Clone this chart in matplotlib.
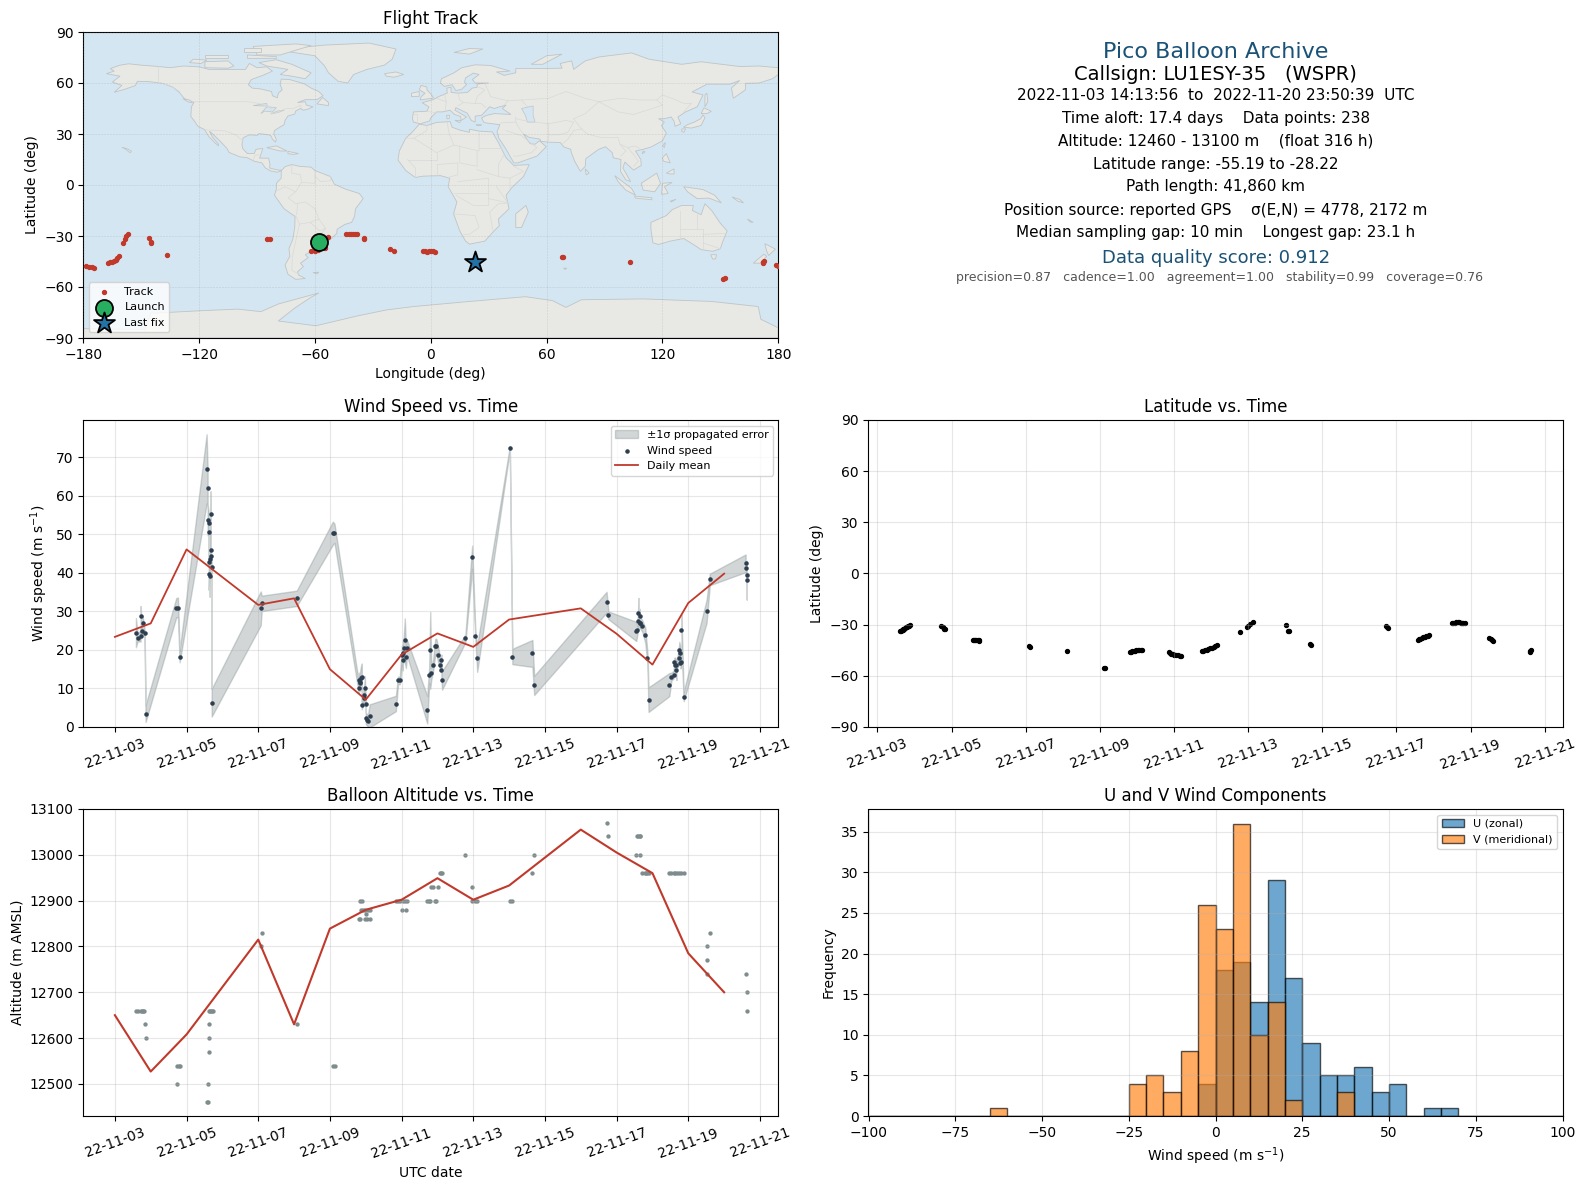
import numpy as np
import matplotlib
matplotlib.use("Agg")
import matplotlib.pyplot as plt
import matplotlib.dates as mdates

# ---- land outlines (lon, lat), traced roughly ----
north_america = [(-168,65.5),(-164,67),(-166,68.5),(-161,70.5),(-156.5,71.3),(-150,70.5),(-141,69.7),(-135,69),(-128,70),(-120,69.5),(-115,68),(-108,68),(-100,68),(-96,68),(-94,71.5),(-90,69),(-85,69.5),(-82,67),(-87,64.5),(-93,62),(-94.5,59),(-92.5,57),(-88,56.5),(-82.5,55),(-82,52.5),(-79.5,51.3),(-79,54),(-77,56),(-78,59),(-77.5,62.3),(-73,62),(-70,61),(-65.5,59.5),(-62,57),(-58,55),(-55.8,52.5),(-59,50.2),(-65,50.2),(-69,48.5),(-65,49),(-64.5,47),(-61,46),(-64,44.5),(-66,44),(-67.5,45),(-70,43.5),(-70.5,41.7),(-74,40.6),(-75.5,38),(-76,35.5),(-78.5,33.8),(-81,32),(-81.3,30),(-80,26.8),(-80.5,25.2),(-82,27),(-83,29.2),(-85,29.7),(-89,30.2),(-90,29.2),(-94,29.5),(-97.2,27.8),(-97.8,24),(-97.5,21.5),(-95,18.5),(-91.5,18.5),(-90.5,21),(-87,21.5),(-88,18),(-88.7,15.8),(-84,15.8),(-83.3,12),(-83.5,10),(-80,9),(-77.3,8.6),(-79.5,7.5),(-83,8.3),(-85.7,10),(-87.5,13),(-91.5,14),(-95,16),(-99,16.6),(-104.5,19.2),(-105.6,21.5),(-109,25.6),(-112.5,29.5),(-114.7,31.7),(-113,28),(-110,24),(-110,23),(-112,25),(-115,28.5),(-117.2,32.6),(-120.6,34.5),(-122.5,37.7),(-124.3,40.3),(-124,46),(-122.7,48.5),(-127.5,50.7),(-130.3,54.5),(-133.5,57.5),(-139,59.8),(-146,60.8),(-152,61),(-153,58.5),(-158,56.5),(-164,54.5),(-160,58.6),(-165,60.5),(-161,64)]
south_america = [(-77.3,8.6),(-75.5,10.8),(-72,12),(-68,11),(-62,10.5),(-60,8.5),(-52,5),(-50,0.5),(-44,-2.5),(-37,-5),(-35,-8),(-39,-14),(-39.5,-18.5),(-41,-22),(-44.5,-23.2),(-48.5,-26),(-48.7,-28.5),(-53,-33),(-56,-35),(-58,-34.2),(-57,-36.5),(-58,-38.3),(-62,-39),(-65,-41),(-63.5,-42.7),(-67.5,-46),(-66,-48),(-69,-51),(-68.5,-53),(-65,-55),(-70,-55.5),(-74,-52.5),(-75.5,-47),(-73,-42),(-73.5,-37.5),(-71.5,-32),(-70.5,-25),(-70.3,-18.5),(-76,-14),(-81,-6),(-80,-2.5),(-80,1),(-77.5,4),(-77.5,7.5)]
africa = [(-5.9,35.8),(-2,35),(3,36.8),(10,37.3),(11,34),(15,32.3),(20,31),(20,32.8),(25,31.7),(32,31.2),(32.5,30),(35.5,24),(37.2,20),(39,16),(43,11.5),(51,12),(48,5),(42,-1.5),(39,-6),(40.5,-14),(35,-20),(35.5,-24),(32.8,-27),(28,-33),(20,-34.8),(18,-33),(15,-27),(11.8,-17),(13.5,-10),(9,-1),(9.8,4),(5,5.5),(-4,5.2),(-8,4.4),(-13,8.5),(-17,14.7),(-16.3,20),(-13,27.5),(-9.7,31)]
eurasia = [(-9,37),(-9.5,39),(-9,43),(-2,43.4),(-1,46),(-4.5,48.4),(1.5,50.3),(4,52),(8.5,54),(8.3,57),(10.5,57.5),(10.5,54.5),(14,54),(19,54.5),(21.5,57),(24,57.5),(24,59.4),(30,60),(23,60),(21.5,62),(25,65),(22,65.8),(18,63),(17.5,60.5),(18.5,59),(16,56.3),(13,55.5),(11,59),(7,58),(5,60),(5.5,62.5),(12,66),(16,69),(23,70.7),(31,70.3),(41,67),(34,66.5),(38,64.5),(44,66),(44,68.5),(55,68.5),(68,68.7),(67,71.5),(73,73),(74,68),(80,73),(87,75.3),(104,77.7),(113,74),(130,71),(140,72.5),(160,69.7),(170,70),(180,69),(180,65),(177,62.5),(170,60),(163,59.8),(163,56),(156.7,51),(155.7,57),(160,61.5),(155,59.3),(143,59.3),(135.3,54.7),(141,53),(138,46),(132,43),(128,40),(129.5,36),(126.5,34.5),(126,37.5),(124.5,40),(121,39),(118,39),(121,37),(119.5,35),(122,30.5),(120,26),(114,22.3),(110,21),(106,20),(108.8,15),(109,11.5),(105,8.8),(100.5,13.5),(99.5,10),(103.5,2),(101,3),(98.3,8),(98.5,15),(94.5,16),(94,19),(90.5,22.5),(87,21),(80.3,15.5),(80,11),(77.5,8),(74.5,14),(72.8,19),(72.5,21),(69,22.3),(67,25),(61,25.2),(57,25.7),(56.5,27),(51,28),(48,30),(50,26.5),(51.5,24.3),(54,24),(56.3,26),(59.8,22.5),(55,17),(45,13),(43,13),(39,21),(35,28),(34.9,29.5),(34.3,31.3),(35.8,35.5),(32,36),(27.5,36.7),(26.3,39.5),(29,41),(33,42),(41.5,41.5),(37,45),(39,47),(35,45.8),(33,45),(30.5,46),(28,43),(26.3,41),(23,40.5),(23,37),(21,38),(19.5,41),(18.8,42.3),(13,45.5),(12.5,44),(18.5,40),(16.5,38.5),(15.7,38),(15.5,40.3),(12.3,41.5),(10,44),(6,43),(3,43),(0,39.5),(-0.7,37.6),(-5.5,36)]
australia = [(114,-22),(122,-18),(125,-14.5),(130,-12),(136,-12),(135.5,-15),(140,-17.5),(142,-11),(145.5,-15),(150,-22.5),(153.5,-27),(151,-34),(150,-37.5),(146,-39),(140,-38),(136,-35),(131,-31.5),(124,-33),(118,-35),(115,-34),(114,-26)]
antarctica = [(-180,-90),(-180,-84.5),(-148,-85),(-145,-75.5),(-120,-74),(-100,-73),(-88,-74.5),(-79,-70),(-58,-63.5),(-62,-66),(-70,-72),(-79,-80),(-59.5,-82.8),(-38,-77),(-23,-73.5),(-9,-71.5),(20,-68.5),(49,-65.7),(63,-68),(70,-72),(78,-67.5),(110,-67),(145.5,-68.5),(169.6,-71.5),(171,-79),(180,-84),(180,-90)]
islands = [
    [(-73,78.3),(-67,81),(-55,82.3),(-32,83.5),(-18,80),(-20,74),(-24,70.5),(-33,68),(-40,65),(-43,60),(-48,61),(-53,66),(-55,70),(-60,76)],
    [(-80,73.7),(-72,71),(-66,68),(-62,66),(-65,62.5),(-72,64),(-78,65),(-74,68),(-85,70),(-89,72)],
    [(-117,69),(-105,68.7),(-102,70),(-105,73),(-117,72.5)],
    [(-125,72),(-123,74),(-116,73.5),(-119,71.5)],
    [(-90,76.5),(-78,76.5),(-62,82),(-70,83),(-92,81.5)],
    [(-95,74.5),(-80,74.5),(-80,75.5),(-95,76.5)],
    [(-117,75),(-105,75),(-105,76.5),(-117,76.5)],
    [(-97,78),(-88,78),(-88,80.5),(-97,80.5)],
    [(-128.5,50.8),(-125,50),(-123.5,48.5),(-125.5,48.8)],
    [(-59,47.7),(-53,46.7),(-53,48.5),(-56,51.5)],
    [(-85,22),(-80,23),(-74.5,20),(-78,20)],
    [(-74,19.8),(-68.5,18.5),(-71,18),(-74,18.4)],
    [(-5.5,50),(1.5,51.2),(0,53.5),(-2,56),(-2,57.6),(-5,58.6),(-6,56),(-3,54),(-5,52)],
    [(-10,52),(-6,52.2),(-6,55),(-10,54)],
    [(-24,65.5),(-18,66.5),(-14,65),(-19,63.4),(-23,64)],
    [(12,78),(20,80.3),(27,80),(20,77)],
    [(52,71),(58,71),(68,77),(60,76)],
    [(142,46),(143.5,49),(143,54),(142,53),(142,48)],
    [(130.8,34),(135,33.5),(140,35),(142,39.5),(141,41.3),(139.8,39),(136.5,37),(133,35.5)],
    [(130,33),(132,33),(131,31),(130,31.5)],
    [(140,42),(141.5,45.4),(145.3,43.3),(143,42)],
    [(120,23),(121.5,25),(121,22)],
    [(110,20),(111,19.5),(109.5,18.3)],
    [(120,16),(122,18.5),(124,13),(120.5,14)],
    [(122,7),(126,9.5),(126,6.5),(124,6.5)],
    [(95.3,5.5),(104,-2),(106,-6),(101,-3),(97,2)],
    [(109,1),(117,7),(119,1),(116,-4),(110,-3)],
    [(105.5,-6.5),(114.5,-7.5),(114.5,-8.7),(106,-7.7)],
    [(119.5,-5.5),(120,1),(125,1.5),(121,-1),(123,-5)],
    [(124,-9.5),(127,-8.4),(124.5,-10)],
    [(131,-1),(141,-2.7),(147,-6),(150.5,-10.5),(144,-7.7),(138,-8),(133,-4)],
    [(156,-7),(160,-8.5),(162,-10.5),(159,-9.5)],
    [(164,-20),(167,-22),(165.5,-21.8)],
    [(145,-41),(148,-41),(147.5,-43.5),(146,-43.5)],
    [(173,-34.5),(178.5,-37.7),(175,-41.5),(174,-39)],
    [(172.5,-40.7),(174,-42),(170.5,-46),(167,-46)],
    [(49.3,-12),(50.5,-16),(47,-25),(44,-25),(44,-17)],
    [(80,9.5),(82,7),(80.5,6)],
    [(68.8,-48.8),(70.5,-49),(69.5,-49.7)],
    [(-61,-51.5),(-58,-51.3),(-59,-52.3)],
    [(12.5,38),(15.5,38),(15,36.7)],
    [(8.2,41),(9.7,41),(9.5,39),(8.4,39)],
    [(23.5,35.5),(26.3,35.3),(24,35)],
    [(-160,22.2),(-157,21.2),(-155,19.8),(-155.8,19),(-158,21)],
]
lakes = [
    [(47,45),(53,46.5),(53,41),(54,37),(50,37),(49,41)],
    [(-92,46.7),(-85,48),(-84.7,46.5),(-87,46.5)],
    [(-88,42),(-85,46),(-80,45.5),(-82,43),(-86,43.5)],
    [(-79.5,43.5),(-76,44),(-79,42.7),(-83,41.8)],
]
borders = [
    [(-123,49),(-95,49),(-89,48),(-83,46),(-82.5,42),(-79,43),(-75,45),(-71,45),(-67.5,47),(-67,45)],
    [(-141,69.7),(-141,60.3),(-135,58.5),(-130,55)],
    [(-117,32.5),(-106.5,31.8),(-101,29.5),(-97.5,26)],
    [(-92,14.7),(-91,17.5),(-89,17.8)],
    [(-72,11.5),(-72,7),(-67.5,6),(-67,1.5)],
    [(-60,8),(-60,1),(-67,1.5),(-70,-4),(-74,-7.5),(-70,-11),(-65,-10),(-60,-14),(-58,-20),(-54.5,-25.5),(-57.5,-30),(-53.5,-33.7)],
    [(-70,-18),(-68,-23),(-70,-33),(-71.7,-42),(-72,-50),(-68.5,-52.5)],
    [(-69,-11),(-69.5,-17.5)],
    [(-80,-3.5),(-75.5,-1),(-70,-4)],
    [(-68,-23),(-62.5,-22),(-58,-20)],
    [(-62.5,-22),(-57.5,-27),(-54.5,-25.5)],
    [(-60,5),(-57,2),(-52,2.5),(-52,5)],
    [(-13,27.5),(-8.7,27.5),(-2,32),(-2,35)],
    [(-8.7,27.5),(3,19),(12,23.5),(9.5,30),(8.5,37)],
    [(12,23.5),(25,20),(25,31.7)],
    [(25,22),(36.5,22)],
    [(15,23),(15,13),(24,11),(24,20)],
    [(24,9),(35,5),(35,12),(38,18)],
    [(-12,15),(-5,15),(3,15),(3,19)],
    [(3,12),(14,13),(14,6),(9,4.5)],
    [(-8,4.4),(-8,10),(-12,15)],
    [(3,6),(3,12)],
    [(12,-5),(30,-5),(30,-12),(22,-12),(13,-6)],
    [(14,2),(30,4),(30,-5)],
    [(12,-17),(23,-18),(25,-25),(20,-29),(17,-29)],
    [(35,5),(41,4),(41,-2)],
    [(34,-1),(40,-10.5),(30,-8)],
    [(41,4),(48,8),(43,11)],
    [(40.5,-10.5),(35,-11),(30.5,-16),(31.5,-22),(32,-26.5)],
    [(28,60),(31,52),(40,49.5),(38,47)],
    [(47,50),(61,51),(70,55),(80,51),(87,49),(98,51),(108,50),(117,50),(120,53),(127,50),(131,48),(135,48),(131,43)],
    [(40,49.5),(47,50),(50,46)],
    [(87,49),(97,43),(105,41.5),(112,44),(120,47),(117,50)],
    [(74,39),(80,42),(87,49)],
    [(74,39),(78,33),(81,30),(88,28),(97,28),(98,24),(102,22),(106,23),(108,21.5)],
    [(68,24),(71,27),(74,32),(78,33)],
    [(44,39),(48,38),(54,37),(61,36),(61,25)],
    [(44,37),(46,33),(48,30)],
    [(36,36.5),(44,37),(44,40)],
    [(39,32),(47,29),(55,22),(52,19),(45,17),(43,17)],
    [(61,36),(70,38),(74,37),(71,31),(66,29.5),(61,29.5)],
    [(102,22),(105,18),(107.5,14),(105,11)],
    [(98,24),(101,20),(98.5,17)],
    [(-2,43.3),(3,42.5)],
    [(-9,42),(-7,42),(-7,37.2)],
    [(3,51),(8,49),(7.5,44)],
    [(8,49),(7,54)],
    [(14,54),(15,50),(17,48.5),(22,48),(26,48),(28.5,45.5)],
    [(14,46.5),(17,48.5)],
    [(24,58),(28,56),(24,52),(23,48)],
    [(129,-15),(129,-31.5)],
    [(129,-26),(141,-26)],
    [(138,-16),(138,-26)],
    [(141,-26),(141,-38)],
    [(141,-29),(153,-28.5)],
    [(141,-34),(150,-37.5)],
]

# ---- track ----
track_lon = [-178.8,-177,-175.5,-174.5,-167,-166,-165,-164,-163,-162.3,-161.6,-159.3,-158.5,-157.8,-157,
             -146.2,-144.8,-144.7,-136.8,-84.8,-83.1,-61.8,-60,-58.5,-54.6,-53,
             -43.8,-42.5,-41.5,-40.5,-39.5,-38.2,-34.8,-34.4,-21.1,-19,
             -4,-3,-2,-1,0,1,2.3,68.1,68.7,103.3,151.6,152.2,172,172.6,172.3,178.6,179.6]
track_lat = [-47.7,-48,-48.5,-48.7,-45.6,-45.2,-45,-44.6,-44,-43,-42,-34.4,-31.5,-30.1,-29,
             -30.9,-33.4,-33.9,-41.4,-31.5,-32,-38.9,-38.7,-38.5,-36.8,-30.5,
             -29,-29,-28.9,-28.9,-29,-29.1,-31.4,-32,-37.9,-39,
             -39.1,-39.1,-39.2,-39.1,-39.1,-39.1,-39.2,-42.6,-42.5,-45.5,-55.1,-54.8,-45.7,-44.5,-45.2,-47.1,-47.6]
launch_lon, launch_lat = -57.7, -33.8
last_lon, last_lat = 23.0, -45.5

# ---- wind speed (day of November, m/s, 1 sigma) ----
wind_t = [3.587,3.633,3.717,3.717,3.754,3.773,3.829,3.857,4.713,4.76,4.806,5.56,5.588,5.588,5.616,5.616,5.616,5.616,5.644,5.644,5.672,5.672,5.672,5.70,5.70,
          7.069,7.097,8.074,9.08,9.127,9.806,9.806,9.834,9.834,9.862,9.89,9.89,9.946,9.946,9.974,10.0,10.0,10.03,10.06,10.11,10.84,10.90,10.95,
          11.01,11.035,11.035,11.06,11.09,11.12,11.15,11.715,11.77,11.80,11.83,11.88,11.94,11.97,12.02,12.08,12.11,12.11,12.13,
          12.78,12.97,13.06,13.11,14.02,14.09,14.65,14.70,16.72,16.77,17.55,17.58,17.61,17.61,17.64,17.64,17.66,17.72,17.80,17.86,17.89,
          18.47,18.53,18.59,18.61,18.64,18.67,18.67,18.73,18.75,18.78,18.78,18.81,18.81,18.87,19.51,19.60,20.60,20.60,20.63,20.63]
wind_v = [24.5,23.2,23.7,28.7,24.8,26.9,24.3,3.5,31.0,31.0,18.3,67.0,62.0,53.7,52.9,50.6,42.8,39.6,43.5,39.2,55.2,45.9,44.3,41.5,6.3,
          30.8,32.1,33.4,50.3,50.3,10.2,12.1,11.3,11.8,12.6,13.1,5.6,8.2,7.6,10.2,6.1,2.3,1.9,1.6,2.9,6.1,12.1,12.1,
          18.6,17.3,19.3,20.4,22.5,18.3,20.6,4.5,13.4,19.9,13.9,16.0,20.9,20.9,18.8,16.2,17.3,14.9,12.1,
          23.0,44.1,23.5,17.8,72.4,18.3,19.1,10.8,32.4,29.0,24.8,25.1,29.5,27.4,28.7,27.1,27.1,26.1,23.8,17.8,7.1,
          11.0,13.1,13.6,17.0,16.0,14.7,16.0,18.0,20.1,19.3,16.7,17.0,25.1,7.9,30.0,38.3,42.5,41.2,39.4,38.1]
wind_err = [3.8,1.0,1.5,2.7,1.0,2.0,1.0,2.2,2.5,2.6,1.5,9.0,5.0,4.0,3.0,3.0,2.0,4.0,2.0,5.4,6.0,2.0,2.0,1.5,3.6,
            4.4,2.0,2.0,3.0,2.5,1.5,2.0,2.0,2.0,3.0,3.4,1.0,1.5,1.5,3.0,1.0,1.5,1.5,1.5,3.0,2.0,1.0,1.0,
            2.6,2.6,3.0,3.0,5.7,3.0,2.0,3.6,2.0,10.0,1.5,1.5,2.0,2.0,2.0,1.5,1.5,2.0,2.4,
            1.0,3.0,1.0,3.5,0.5,2.0,3.5,2.5,2.7,1.0,2.5,1.0,4.0,2.0,2.0,1.5,1.5,1.5,2.0,1.5,3.2,
            3.0,1.0,1.0,1.0,2.0,2.5,1.0,2.0,2.0,1.5,1.5,1.5,4.0,1.2,3.0,1.5,2.3,1.5,1.0,5.0]
mean_days = [3,4,5,7,8,9,10,11,12,13,14,16,17,18,19,20]
wind_mean = [23.4,26.9,46.1,31.7,33.4,15.0,7.1,18.8,24.3,20.8,27.9,30.8,24.2,16.2,32.2,39.8]

# ---- latitude ----
lat_t = [3.61,3.63,3.65,3.68,3.70,3.73,3.75,3.78,3.80,3.83,3.86,3.88,4.72,4.76,4.80,4.81,
         5.57,5.6,5.63,5.66,5.7,5.73,5.75,7.09,7.11,8.12,9.10,9.13,
         9.82,9.85,9.88,9.92,9.95,9.98,10.02,10.06,10.1,10.14,
         10.87,10.9,10.93,10.97,11.0,11.05,11.1,11.15,11.19,
         11.75,11.79,11.84,11.88,11.93,11.97,12.02,12.07,12.12,12.16,
         12.78,12.98,13.01,13.06,13.12,14.02,14.08,14.10,14.68,14.69,16.72,16.75,16.78,
         17.58,17.61,17.64,17.68,17.72,17.76,17.8,17.84,17.88,
         18.49,18.53,18.57,18.61,18.65,18.69,18.73,18.77,18.81,18.85,
         19.51,19.54,19.57,19.6,20.6,20.6,20.63]
lat_v = [-34.0,-33.6,-33.3,-33.0,-32.7,-32.3,-32.0,-31.6,-31.3,-31.0,-30.6,-30.4,-31.0,-31.6,-32.4,-32.6,
         -38.8,-38.8,-38.9,-38.9,-39.0,-39.1,-39.3,-42.3,-42.9,-45.3,-55.3,-55.2,
         -46.0,-45.8,-45.6,-45.4,-45.2,-45.0,-44.8,-44.7,-44.6,-44.6,
         -46.3,-46.6,-47.0,-47.4,-47.6,-47.8,-48.0,-48.2,-48.3,
         -45.4,-45.3,-45.1,-44.7,-44.2,-43.9,-43.5,-43.0,-42.4,-41.9,
         -34.1,-31.4,-30.8,-29.4,-28.4,-30.4,-33.8,-33.5,-41.5,-41.8,-30.9,-31.2,-31.9,
         -38.9,-38.6,-38.4,-38.0,-37.5,-37.2,-36.7,-36.4,-36.0,
         -29.1,-28.9,-28.8,-28.7,-28.7,-28.7,-28.8,-28.8,-29.0,-29.3,
         -37.8,-38.3,-39.0,-39.8,-45.5,-46.0,-45.0]

# ---- altitude ----
alt_t = [3.587,3.633,3.717,3.745,3.773,3.80,3.829,3.857,4.74,4.78,4.81,4.72,5.62,5.64,5.67,5.70,5.73,5.62,5.62,5.62,5.59,5.56,5.59,
         7.10,7.07,8.07,9.08,9.13,9.83,9.89,9.86,9.92,9.97,10.06,10.11,10.0,9.81,9.83,9.97,10.03,10.11,
         10.84,10.90,10.95,11.04,11.09,11.15,11.01,11.12,11.71,11.77,11.80,11.94,11.97,11.83,11.88,12.02,12.08,12.11,12.13,12.78,12.97,12.97,13.06,13.11,
         14.02,14.09,14.65,14.70,16.72,16.77,17.58,17.61,17.64,17.66,17.55,17.66,17.72,17.78,17.83,17.86,17.89,
         18.47,18.53,18.59,18.64,18.69,18.75,18.81,18.87,19.60,19.51,19.51,19.51,20.60,20.63,20.63]
alt_v = [12660,12660,12660,12660,12660,12660,12631,12600,12540,12540,12540,12500,12660,12660,12660,12660,12660,12631,12600,12570,12500,12460,12460,
         12830,12800,12631,12540,12540,12900,12900,12880,12880,12880,12880,12880,12870,12860,12860,12860,12860,12860,
         12900,12900,12900,12900,12900,12900,12880,12880,12900,12900,12900,12900,12900,12930,12930,12930,12960,12960,12960,13000,12930,12900,12900,12900,
         12900,12900,12960,13000,13070,13040,13040,13040,13040,13040,13000,13000,12960,12960,12960,12960,12960,
         12960,12960,12960,12960,12960,12960,12960,12960,12830,12800,12770,12740,12740,12700,12660]
alt_mean = [12650,12527,12608,12815,12630,12839,12880,12902,12949,12902,12933,13055,13005,12960,12785,12700]

# ---- histogram ----
hist_edges = np.arange(-100, 105, 5)
u_bins = [-5,0,5,10,15,20,25,30,35,40,45,50,60,65]
u_counts = [4,18,19,14,29,17,9,5,5,6,3,4,1,1]
v_bins = [-65,-25,-20,-15,-10,-5,0,5,10,15,20,35]
v_counts = [1,4,5,3,8,26,23,36,10,14,2,3]

DARK = "#2c3e50"
GREY = "#7f8c8d"
RED = "#c0392b"
BLUE = "#1a5276"


def to_dates(days):
    return mdates.date2num(np.datetime64("2022-11-01")) + np.asarray(days, dtype=float) - 1


def box(x0, y0, x1, y1):
    return [x0 / 1586, 1 - y1 / 1189, (x1 - x0) / 1586, (y1 - y0) / 1189]


def date_axis(ax):
    ax.xaxis.set_major_locator(mdates.DayLocator(bymonthday=range(1, 32, 2)))
    ax.xaxis.set_major_formatter(mdates.DateFormatter("%y-%m-%d"))
    ax.tick_params(axis="x", rotation=20)
    ax.grid(True, alpha=0.3)


fig = plt.figure(figsize=(15.86, 11.89), dpi=100)

# map
ax = fig.add_axes(box(83.3, 32, 778.3, 338))
ax.set_facecolor("#d4e6f1")
for poly in [north_america, south_america, africa, eurasia, australia, antarctica] + islands:
    xy = np.array(poly)
    ax.fill(xy[:, 0], xy[:, 1], facecolor="#e8e8e4", edgecolor="#bfc5c7", linewidth=0.6, zorder=1)
for poly in lakes:
    xy = np.array(poly)
    ax.fill(xy[:, 0], xy[:, 1], facecolor="#d4e6f1", edgecolor="#bfc5c7", linewidth=0.5, zorder=1)
for line in borders:
    xy = np.array(line)
    ax.plot(xy[:, 0], xy[:, 1], color="#d9dad8", linewidth=0.5, zorder=1.5)
ax.grid(True, linestyle="--", linewidth=0.4, alpha=0.25, color="gray", zorder=2)
ax.set_axisbelow(False)
ax.scatter(track_lon, track_lat, s=8, color=RED, label="Track", zorder=3)
ax.scatter(launch_lon, launch_lat, s=150, color="#27ae60", edgecolor="black", linewidth=1.3, label="Launch", zorder=5)
ax.scatter(last_lon, last_lat, s=250, marker="*", color="#2471a3", edgecolor="black", linewidth=1.3, label="Last fix", zorder=5)
ax.set_xlim(-180, 180)
ax.set_ylim(-90, 90)
ax.set_xticks(np.arange(-180, 181, 60))
ax.set_yticks(np.arange(-90, 91, 30))
ax.set_xlabel("Longitude (deg)", labelpad=4)
ax.set_ylabel("Latitude (deg)")
ax.set_title("Flight Track", fontsize=12)
ax.legend(loc="lower left", fontsize=8)

# summary text
lines = [
    (1216, 52, "Pico Balloon Archive", 16, BLUE),
    (1215, 74, "Callsign: LU1ESY-35   (WSPR)", 14, "black"),
    (1216, 95, "2022-11-03 14:13:56  to  2022-11-20 23:50:39  UTC", 11, "black"),
    (1216, 118, "Time aloft: 17.4 days    Data points: 238", 11, "black"),
    (1216, 141, "Altitude: 12460 - 13100 m    (float 316 h)", 11, "black"),
    (1216, 164, "Latitude range: -55.19 to -28.22", 11, "black"),
    (1216, 187, "Path length: 41,860 km", 11, "black"),
    (1216, 210, "Position source: reported GPS    σ(E,N) = 4778, 2172 m", 11, "black"),
    (1216, 233, "Median sampling gap: 10 min    Longest gap: 23.1 h", 11, "black"),
    (1216, 258, "Data quality score: 0.912", 13, BLUE),
    (1219, 278, "precision=0.87   cadence=1.00   agreement=1.00   stability=0.99   coverage=0.76", 9, "#555555"),
]
for px, py, txt, size, col in lines:
    fig.text(px / 1586, 1 - py / 1189, txt, fontsize=size, color=col, ha="center", va="center")

# wind speed
ax = fig.add_axes(box(83.3, 420, 778.3, 727))
order = np.argsort(wind_t, kind="stable")
wt = to_dates(wind_t)[order]
wv = np.array(wind_v)[order]
we = np.array(wind_err)[order]
ax.fill_between(wt, wv - we, wv + we, color=GREY, alpha=0.35, label="±1σ propagated error")
ax.scatter(wt, wv, s=5, color=DARK, label="Wind speed", zorder=3)
ax.plot(to_dates(mean_days), wind_mean, color=RED, linewidth=1.3, label="Daily mean", zorder=4)
date_axis(ax)
ax.set_ylim(0, 79.7)
ax.set_ylabel("Wind speed (m s$^{-1}$)")
ax.set_title("Wind Speed vs. Time", fontsize=12)
ax.legend(loc="upper right", fontsize=8)

# latitude
ax = fig.add_axes(box(868.5, 420, 1562.5, 727))
ax.scatter(to_dates(lat_t), lat_v, s=8, color="black")
date_axis(ax)
ax.set_ylim(-90, 90)
ax.set_yticks(np.arange(-90, 91, 30))
ax.set_ylabel("Latitude (deg)")
ax.set_title("Latitude vs. Time", fontsize=12)

# altitude
ax = fig.add_axes(box(83.3, 809, 778.3, 1116))
ax.scatter(to_dates(alt_t), alt_v, s=4.5, color=GREY)
ax.plot(to_dates(mean_days), alt_mean, color=RED, linewidth=1.5)
date_axis(ax)
ax.set_ylim(12430, 13100)
ax.set_xlabel("UTC date")
ax.set_ylabel("Altitude (m AMSL)")
ax.set_title("Balloon Altitude vs. Time", fontsize=12)

# histogram
ax = fig.add_axes(box(868.5, 809, 1562.5, 1116))
ax.hist(np.array(u_bins) + 2.5, bins=hist_edges, weights=u_counts, alpha=0.65, color="C0", edgecolor="black", label="U (zonal)")
ax.hist(np.array(v_bins) + 2.5, bins=hist_edges, weights=v_counts, alpha=0.65, color="C1", edgecolor="black", label="V (meridional)")
ax.set_xlim(-100, 100)
ax.grid(True, alpha=0.3)
ax.set_xlabel("Wind speed (m s$^{-1}$)")
ax.set_ylabel("Frequency")
ax.set_title("U and V Wind Components", fontsize=12)
ax.legend(loc="upper right", fontsize=8)

fig.savefig("out.png", dpi=100)
